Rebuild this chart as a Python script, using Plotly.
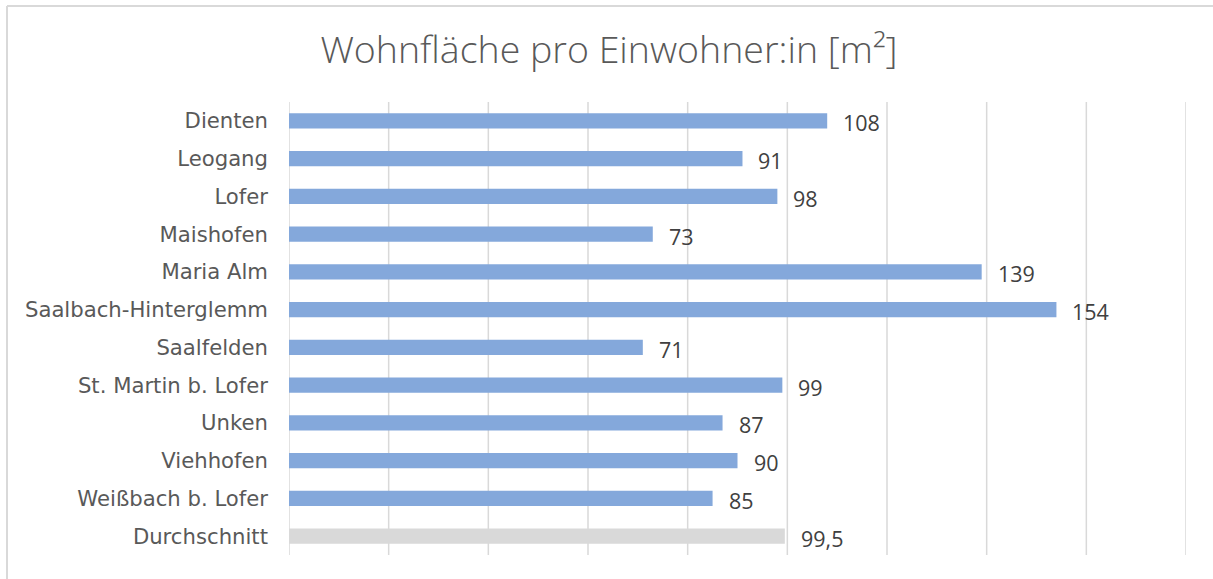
import plotly.graph_objects as go

categories = ["Dienten", "Leogang", "Lofer", "Maishofen", "Maria Alm",
              "Saalbach-Hinterglemm", "Saalfelden", "St. Martin b. Lofer",
              "Unken", "Viehhofen", "Weißbach b. Lofer", "Durchschnitt"]
values = [108, 91, 98, 73, 139, 154, 71, 99, 87, 90, 85, 99.5]
colors = ["#84A8DB"] * 11 + ["#D9D9D9"]
gridlines = [0, 20, 40, 60, 80, 100, 120, 140, 160, 180]


def fmt(v):
    if float(v).is_integer():
        return str(int(v))
    return str(v).replace(".", ",")


labels = [fmt(v) for v in values]

W, H = 1213, 579
ml, mr, mt, mb = 289, 27, 102, 24
pw, ph = W - ml - mr, H - mt - mb

fig = go.Figure()
fig.add_trace(go.Bar(
    x=values, y=categories, orientation="h",
    marker=dict(color=colors, line=dict(width=0)),
    hoverinfo="x+y",
))

for v, c, t in zip(values, categories, labels):
    fig.add_annotation(x=v, y=c, text=t, showarrow=False, xanchor="left",
                       yanchor="middle", xshift=14, yshift=-2,
                       font=dict(family="Open Sans", size=21.5, color="#404040"))

# vertical gridlines
for g in gridlines:
    fig.add_shape(type="line", xref="x", yref="paper", x0=g, x1=g, y0=0, y1=1,
                  line=dict(color="#D9D9D9", width=1.5), layer="below")

# chart border (top and left edges)
x0 = (7 - ml) / pw
yt = (H - mb - 6) / ph
yb = (H - mb - 590) / ph
xr = (W + 10 - ml) / pw
fig.add_shape(type="line", xref="paper", yref="paper", x0=x0, x1=xr, y0=yt, y1=yt,
              line=dict(color="#D9D9D9", width=2))
fig.add_shape(type="line", xref="paper", yref="paper", x0=x0, x1=x0, y0=yt, y1=yb,
              line=dict(color="#D9D9D9", width=2))

fig.update_layout(
    width=W, height=H,
    margin=dict(l=ml, r=mr, t=mt, b=mb),
    paper_bgcolor="white", plot_bgcolor="white",
    bargap=0.6,
    showlegend=False,
    title=dict(text="Wohnfläche pro Einwohner:in [m²]", x=0.502, xanchor="center",
               y=1 - 50 / H, yanchor="middle", yref="container",
               font=dict(family="Open Sans", size=37.5, color="#595959", weight=300)),
    xaxis=dict(range=[0, 180], showticklabels=False, showgrid=False,
               zeroline=False, showline=False, fixedrange=True),
    yaxis=dict(autorange="reversed", showgrid=False, showline=False,
               ticks="", ticklabelstandoff=20,
               tickfont=dict(family="DejaVu Sans", size=21.2, color="#595959")),
)

fig.write_html("out.html", config={"displayModeBar": False},
               post_script="document.body.style.margin='0';")
